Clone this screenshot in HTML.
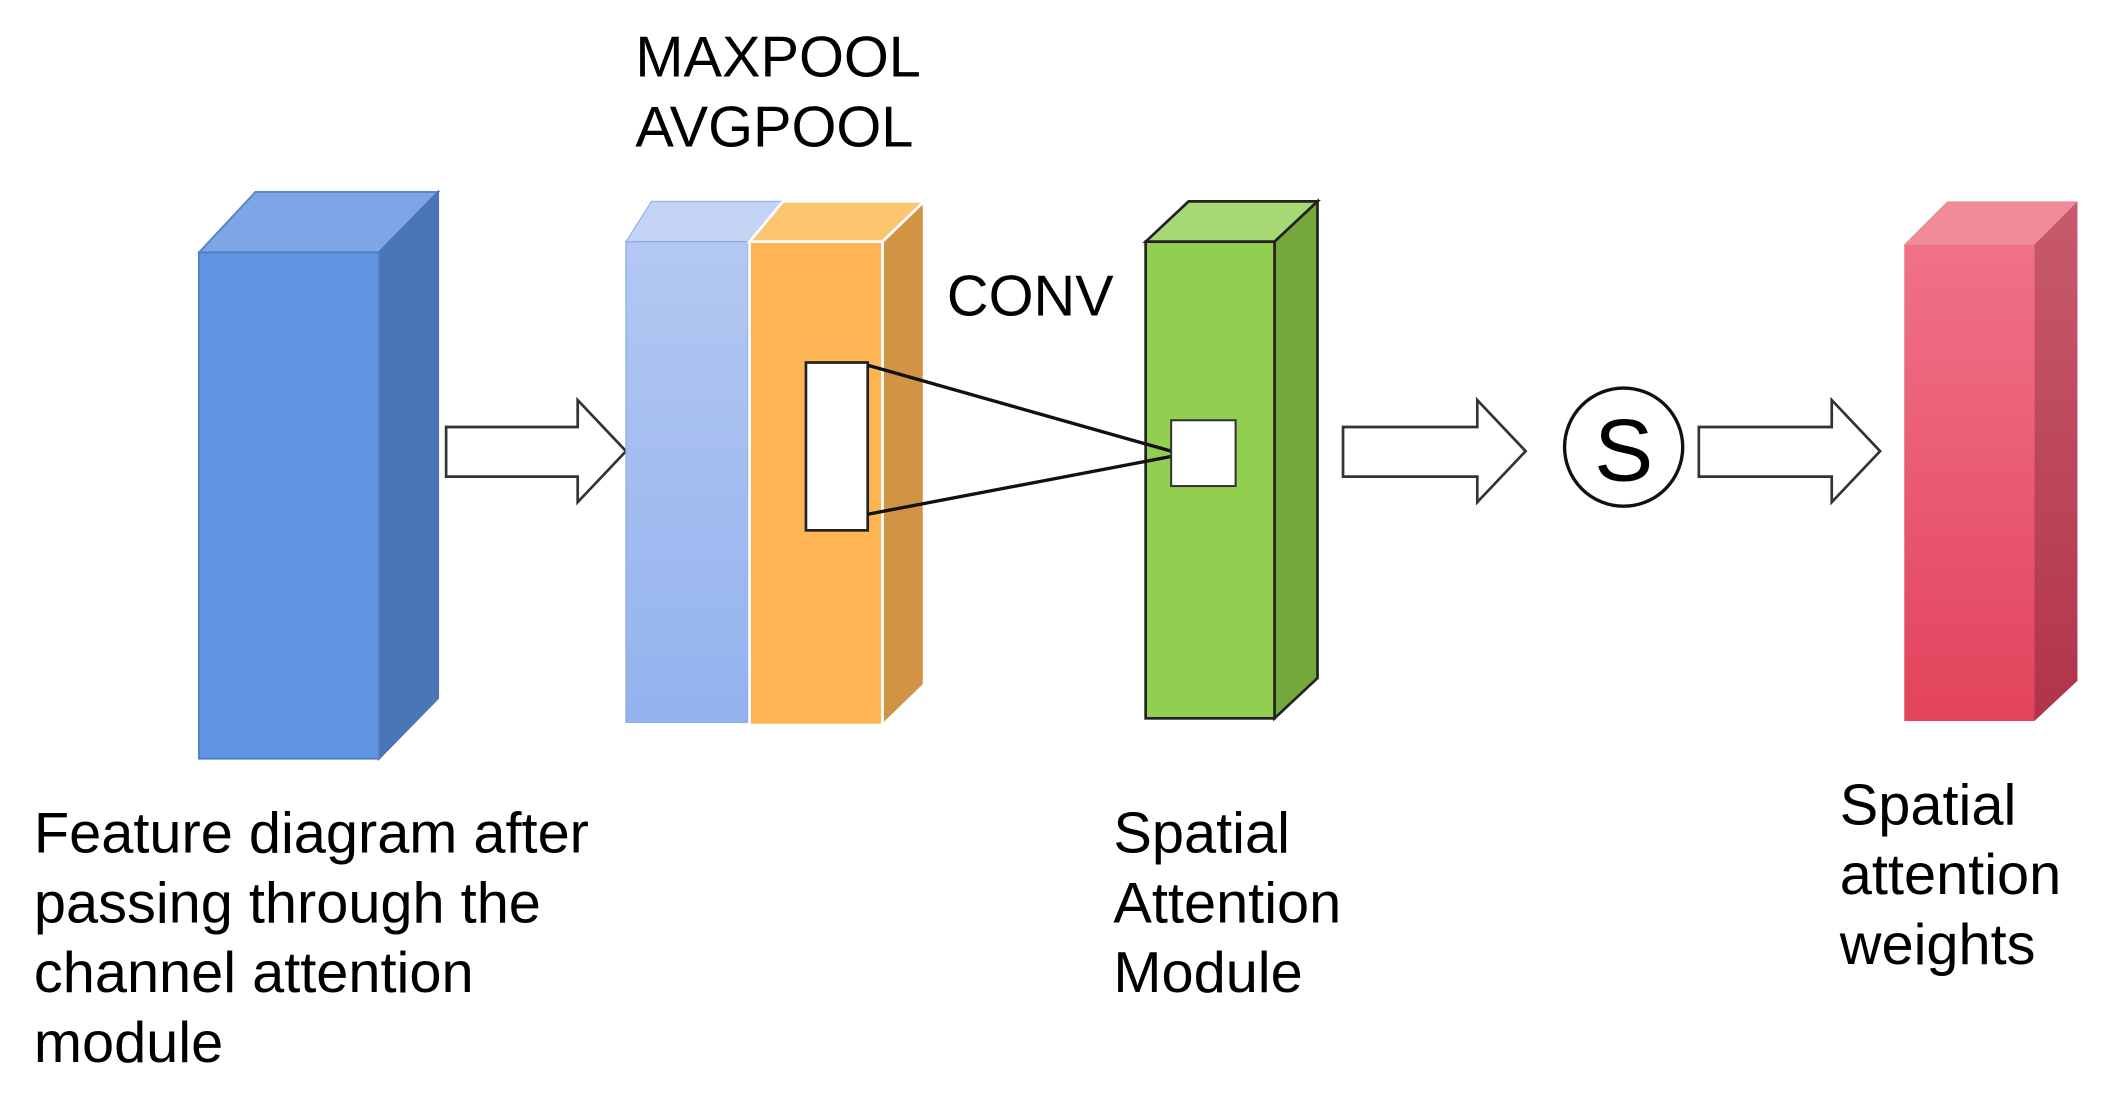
<!DOCTYPE html>
<html><head><meta charset="utf-8"><style>html,body{margin:0;padding:0;background:#fff}svg{display:block}</style></head>
<body>
<svg width="2106" height="1101" viewBox="0 0 1568 820" xmlns="http://www.w3.org/2000/svg" font-family="Liberation Sans, Arial, sans-serif" font-size="43" fill="#000">
<defs>
<linearGradient id="lb" x1="0" y1="0" x2="0" y2="1"><stop offset="0" stop-color="#b3c8f2"/><stop offset="1" stop-color="#93b2ee"/></linearGradient>
<linearGradient id="pk" x1="0" y1="0" x2="0" y2="1"><stop offset="0" stop-color="#f07288"/><stop offset="1" stop-color="#e2435c"/></linearGradient>
<linearGradient id="pks" x1="0" y1="0" x2="0" y2="1"><stop offset="0" stop-color="#c85a6c"/><stop offset="1" stop-color="#b0344a"/></linearGradient>
</defs>
<polygon points="148,188 190,143 326,143 282,188" fill="#7ea6e6" stroke="#5a86cc" stroke-width="1.5"/>
<polygon points="282,188 326,143 326,520 282,565" fill="#4a76b8" stroke="#4a76b8" stroke-width="1.5"/>
<rect x="148" y="188" width="134" height="377" fill="#5f95e2" stroke="#4f80c8" stroke-width="1.5"/>
<polygon points="332,318 430,318 430,298 466,336 430,374 430,355 332,355" fill="#fff" stroke="#333" stroke-width="2"/>
<polygon points="466,180 485,150 583,150 558,180" fill="#c3d4f4" stroke="#9ab6ea" stroke-width="1"/>
<rect x="466" y="180" width="91" height="358" fill="url(#lb)" stroke="#8eaee8" stroke-width="1"/>
<polygon points="558,180 583,150 688,150 657,180" fill="#fcc570" stroke="#fff" stroke-width="2"/>
<polygon points="657,180 688,150 688,510 657,540" fill="#d09444" stroke="#fff" stroke-width="2"/>
<rect x="558" y="180" width="99" height="360" fill="#fdb553" stroke="#fff" stroke-width="2"/>
<rect x="600" y="270" width="46" height="125" fill="#fff" stroke="#222" stroke-width="2"/>
<polygon points="853,180 885,150 981,150 949,180" fill="#a6d874" stroke="#222" stroke-width="2"/>
<polygon points="949,180 981,150 981,505 949,535" fill="#74a83a" stroke="#222" stroke-width="2"/>
<rect x="853" y="180" width="96" height="355" fill="#92cf50" stroke="#222" stroke-width="2"/>
<line x1="646" y1="272" x2="872" y2="336" stroke="#111" stroke-width="2.5"/>
<line x1="646" y1="383" x2="872" y2="340" stroke="#111" stroke-width="2.5"/>
<rect x="872" y="313" width="48" height="49" fill="#fff" stroke="#333" stroke-width="1.5"/>
<polygon points="1000,318 1100,318 1100,298 1136,336 1100,374 1100,355 1000,355" fill="#fff" stroke="#333" stroke-width="2"/>
<circle cx="1209" cy="333" r="44" fill="#fff" stroke="#111" stroke-width="2.5"/>
<text x="1209" y="358" font-size="66" text-anchor="middle">S</text>
<polygon points="1265,318 1364,318 1364,298 1400,336 1364,374 1364,355 1265,355" fill="#fff" stroke="#333" stroke-width="2"/>
<polygon points="1418,182 1450,150 1547,150 1515,182" fill="#ef8a98"/>
<polygon points="1515,182 1547,150 1547,507 1515,537" fill="url(#pks)"/>
<rect x="1418" y="182" width="97" height="355" fill="url(#pk)"/>
<text x="473" y="57">MAXPOOL</text>
<text x="473" y="109">AVGPOOL</text>
<text x="705" y="235">CONV</text>
<text x="25" y="635">Feature diagram after</text>
<text x="25" y="687">passing through the</text>
<text x="25" y="739">channel attention</text>
<text x="25" y="791">module</text>
<text x="829" y="635">Spatial</text>
<text x="829" y="687">Attention</text>
<text x="829" y="739">Module</text>
<text x="1370" y="614">Spatial</text>
<text x="1370" y="666">attention</text>
<text x="1370" y="718">weights</text>
</svg>
</body></html>
